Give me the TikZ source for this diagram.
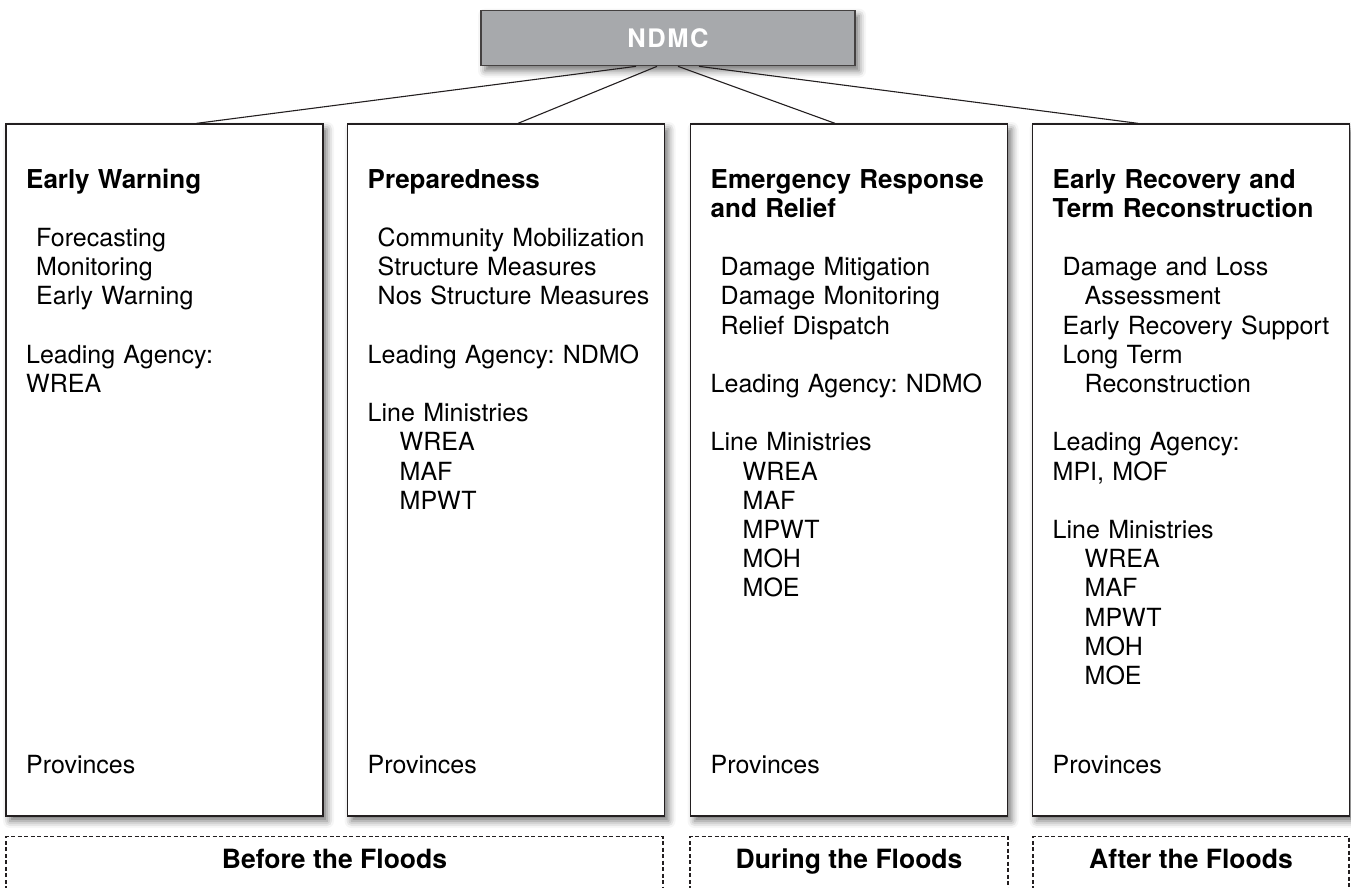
\documentclass[tikz,border=0pt]{standalone}
\usepackage{fontspec}
\setmainfont{TeX Gyre Heros}
\usepackage{tikz}
\usetikzlibrary{shadows.blur}
\frenchspacing
\definecolor{ink}{RGB}{35,31,32}
\definecolor{headgray}{RGB}{167,169,172}
\tikzset{
    phasebox/.style={
        draw=ink, line width=1.3pt, fill=white,
        minimum width=317pt, minimum height=692pt,
        blur shadow={shadow xshift=4pt, shadow yshift=-5pt, shadow blur radius=7pt, shadow opacity=55}
    },
    headbox/.style={
        draw=ink!85, line width=1.3pt, fill=headgray, text=white,
        minimum width=374pt, minimum height=55pt,
        font=\fontsize{25.5}{30}\selectfont\bfseries\addfontfeature{LetterSpace=6},
        blur shadow={shadow xshift=4pt, shadow yshift=-5pt, shadow blur radius=7pt, shadow opacity=55}
    },
    phasetext/.style={
        anchor=base west, inner sep=0pt, text width=300pt, align=left,
        font=\fontsize{25}{29.2}\selectfont
    },
    period/.style={
        draw=ink, line width=1.2pt, dash pattern=on 4pt off 2.5pt
    },
    periodtext/.style={
        anchor=base, inner sep=0pt, font=\fontsize{26.5}{30}\selectfont\bfseries
    },
    link/.style={draw=ink, line width=1.1pt}
}
\newcommand{\skipline}{\\[29.2pt]}
\newcommand{\itemIndent}{\hspace*{10pt}}
\newcommand{\subIndent}{\hspace*{32pt}}
\newcommand{\phaseTitle}[1]{{\fontsize{26}{29.2}\selectfont\bfseries #1}}
% #1 name, #2 centre x, #3 text of the column
\newcommand{\phaseColumn}[3]{
    \node[phasebox] (#1) at (#2,470) {};
    \node[phasetext] (#1Text) at (#2-138.5,188) {#3};
    \node[phasetext] (#1Prov) at (#2-138.5,773) {Provinces};
}

\begin{document}
\begin{tikzpicture}[x=1pt,y=-1pt]
    \useasboundingbox (0,0) rectangle (1351,888);

    % Council on top
    \node[headbox] (ndmc) at (668,38.2) {NDMC};

    % The four phases
    \phaseColumn{warn}{164.5}{
        \phaseTitle{Early Warning}\skipline
        \itemIndent Forecasting\\
        \itemIndent Monitoring\\
        \itemIndent Early Warning\skipline
        Leading Agency:\\
        WREA}

    \phaseColumn{prep}{506}{
        \phaseTitle{Preparedness}\skipline
        \itemIndent Community Mobilization\\
        \itemIndent Structure Measures\\
        \itemIndent Nos Structure Measures\skipline
        Leading Agency: NDMO\skipline
        Line Ministries\\
        \subIndent WREA\\
        \subIndent MAF\\
        \subIndent MPWT}

    \phaseColumn{resp}{849}{
        \phaseTitle{Emergency Response}\\
        \phaseTitle{and Relief}\skipline
        \itemIndent Damage Mitigation\\
        \itemIndent Damage Monitoring\\
        \itemIndent Relief Dispatch\skipline
        Leading Agency: NDMO\skipline
        Line Ministries\\
        \subIndent WREA\\
        \subIndent MAF\\
        \subIndent MPWT\\
        \subIndent MOH\\
        \subIndent MOE}

    \phaseColumn{recov}{1191}{
        \phaseTitle{Early Recovery and}\\
        \phaseTitle{Term Reconstruction}\skipline
        \itemIndent Damage and Loss\\
        \subIndent Assessment\\
        \itemIndent Early Recovery Support\\
        \itemIndent Long Term\\
        \subIndent Reconstruction\skipline
        Leading Agency:\\
        MPI, MOF\skipline
        Line Ministries\\
        \subIndent WREA\\
        \subIndent MAF\\
        \subIndent MPWT\\
        \subIndent MOH\\
        \subIndent MOE}

    % Links from the council
    \draw[link] ([xshift=-32pt]ndmc.south) -- ([xshift=32pt]warn.north);
    \draw[link] ([xshift=-11pt]ndmc.south) -- ([xshift=12pt]prep.north);
    \draw[link] ([xshift=10pt]ndmc.south) -- ([xshift=-14pt]resp.north);
    \draw[link] ([xshift=31pt]ndmc.south) -- ([xshift=-53pt]recov.north);

    % Periods below, open at the bottom
    \draw[period] (6,890) |- (663,836.5) -- (663,890);
    \draw[period] (690,890) |- (1008,836.5) -- (1008,890);
    \draw[period] (1033,890) |- (1349,836.5) -- (1349,890);
    \node[periodtext] (before) at (334.5,868) {Before the Floods};
    \node[periodtext] (during) at (849,868) {During the Floods};
    \node[periodtext] (after) at (1191,868) {After the Floods};
\end{tikzpicture}
\end{document}
